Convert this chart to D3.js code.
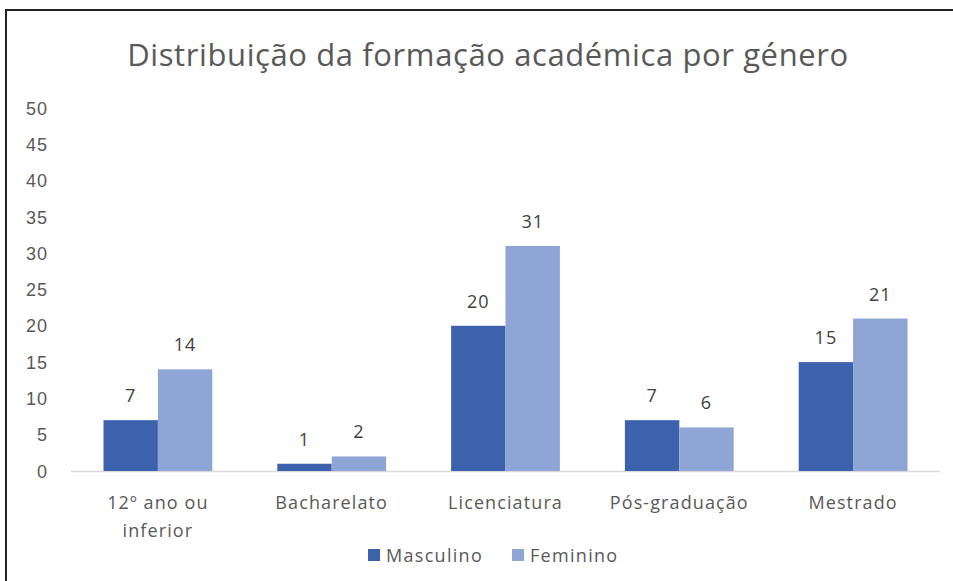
<!DOCTYPE html>
<html><head><meta charset="utf-8">
<script src="https://cdn.jsdelivr.net/npm/d3@7"></script>
<style>
body{margin:0;background:#fff;}
svg{display:block;font-family:"Open Sans","Noto Sans",sans-serif;}
</style></head>
<body>
<svg id="chart" width="953" height="581"></svg>
<script>
const categories = [["12º ano ou","inferior"],["Bacharelato"],["Licenciatura"],["Pós-graduação"],["Mestrado"]];
const masculino = [7, 1, 20, 7, 15];
const feminino = [14, 2, 31, 6, 21];
const seriesNames = ["Masculino", "Feminino"];
const yTicks = [0,5,10,15,20,25,30,35,40,45,50];
const title = "Distribuição da formação académica por género";

(function(){
const colors = ["#3C62AD", "#8EA5D6"];
const textColor = "#595959";
const svg = d3.select("#chart");

// border
svg.append("rect").attr("x",6).attr("y",10).attr("width",1000).attr("height",1000)
  .attr("fill","none").attr("stroke","#222").attr("stroke-width",2);

const mLeft = 71, mRight = 940, mTop = 108, mBottom = 471;
const x0 = d3.scaleBand().domain(d3.range(categories.length)).range([mLeft,mRight]).paddingInner(0.374).paddingOuter(0.187);
const x1 = d3.scaleBand().domain([0,1]).range([0,x0.bandwidth()]).padding(0);
const y = d3.scaleLinear().domain([0,50]).range([mBottom,mTop]);

svg.append("text").attr("x",488).attr("y",66).attr("text-anchor","middle")
  .attr("font-size",31).attr("letter-spacing",0.6).attr("fill",textColor).text(title);

// y axis
const yAxis = d3.axisLeft(y).tickValues(yTicks).tickSize(0).tickPadding(0);
const gy = svg.append("g").attr("transform","translate(48,0)").call(yAxis);
gy.select(".domain").remove();
gy.selectAll("text").attr("font-size",18).attr("letter-spacing",1).attr("fill",textColor).attr("font-family","inherit").attr("dy","0.34em");

// baseline
svg.append("line").attr("x1",mLeft).attr("x2",mRight).attr("y1",mBottom+0.5).attr("y2",mBottom+0.5)
  .attr("stroke","#d9d9d9").attr("stroke-width",1.5);

const data = categories.map((c,i)=>({i, vals:[masculino[i], feminino[i]]}));
const g = svg.selectAll("g.grp").data(data).join("g").attr("class","grp")
  .attr("transform",d=>`translate(${x0(d.i)},0)`);
g.selectAll("rect").data(d=>d.vals.map((v,s)=>({v,s}))).join("rect")
  .attr("x",d=>x1(d.s)).attr("width",x1.bandwidth())
  .attr("y",d=>y(d.v)).attr("height",d=>y(0)-y(d.v))
  .attr("fill",d=>colors[d.s]);
g.selectAll("text.lbl").data(d=>d.vals.map((v,s)=>({v,s}))).join("text").attr("class","lbl")
  .attr("x",d=>x1(d.s)+x1.bandwidth()/2).attr("y",d=>y(d.v)-18)
  .attr("text-anchor","middle").attr("font-size",18).attr("letter-spacing",1).attr("fill","#404040").text(d=>d.v);

// category labels
const xAxis = d3.axisBottom(x0).tickSize(0).tickFormat(()=>"");
const gx = svg.append("g").attr("transform",`translate(0,${mBottom})`).call(xAxis);
gx.select(".domain").remove();
categories.forEach((lines,i)=>{
  const cx = x0(i)+x0.bandwidth()/2;
  const t = svg.append("text").attr("x",cx).attr("y",509)
    .attr("text-anchor","middle").attr("font-size",18).attr("letter-spacing",1.1).attr("fill",textColor);
  lines.forEach((l,k)=>t.append("tspan").attr("x",cx).attr("dy",k?28:0).text(l));
});

// legend
const legX = [368, 512];
seriesNames.forEach((n,s)=>{
  svg.append("rect").attr("x",legX[s]).attr("y",549).attr("width",12).attr("height",12).attr("fill",colors[s]);
  svg.append("text").attr("x",legX[s]+18).attr("y",562).attr("font-size",18).attr("letter-spacing",1.3).attr("fill",textColor).text(n);
});
})();
</script>
</body></html>
